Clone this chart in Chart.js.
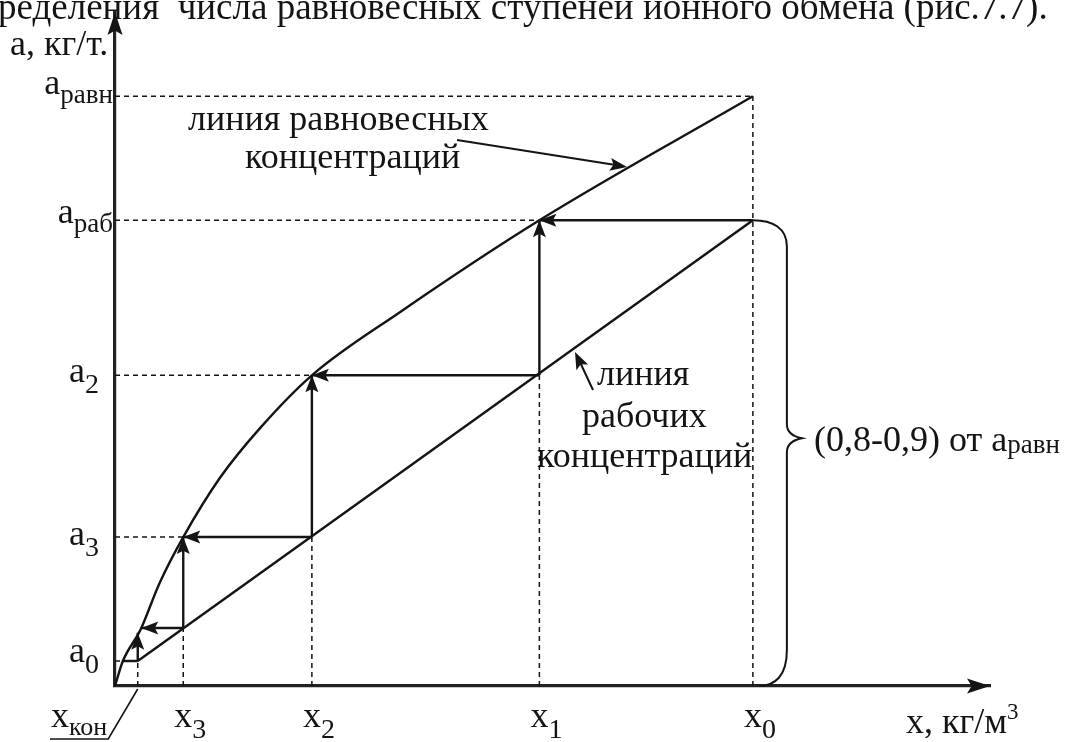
<!DOCTYPE html>
<html>
<head>
<meta charset="utf-8">
<script src="https://cdn.jsdelivr.net/npm/chart.js@4.4.1/dist/chart.umd.min.js"></script>
<style>
  html, body { margin: 0; background: #fff; }
  canvas { display: block; }
</style>
</head>
<body>
<canvas id="chart" width="1072" height="742"></canvas>
<script>
// уровни на осях (условные единицы)
const xLevels = [0.26, 0.78, 2.25, 4.85, 7.29]   // x_кон, x3, x2, x1, x0
const xNames = ["кон", "3", "2", "1", "0"]
const aLevels = [0.37, 2.21, 4.61, 6.91, 8.75]   // a0, a3, a2, a_раб, a_равн
const aNames = ["0", "3", "2", "раб", "равн"]

// линия равновесных концентраций
const eqX = [0, 0.09, 0.29, 0.51, 0.78, 1.20, 1.66, 2.25, 3.26, 4.85, 7.29]
const eqY = [0, 0.37, 0.83, 1.53, 2.21, 3.09, 3.83, 4.61, 5.55, 6.91, 8.75]

// линия рабочих концентраций
const workX = [0.26, 7.29]
const workY = [0.37, 6.91]

// ступени (стрелки: начало -> конец)
const stepFromX = [7.29, 4.85, 4.85, 2.25, 2.25, 0.78, 0.78, 0.26]
const stepFromY = [6.91, 4.61, 4.61, 2.21, 2.21, 0.86, 0.86, 0.37]
const stepToX   = [4.85, 4.85, 2.25, 2.25, 0.78, 0.78, 0.30, 0.26]
const stepToY   = [6.91, 6.91, 4.61, 4.61, 2.21, 2.21, 0.86, 0.79]

// пунктирные выноски: докуда доходят горизонтали и вертикали
const guideHEnd = [0.09, 0.78, 2.25, 4.85, 7.29]
const guideVEnd = [0.37, 0.86, 2.21, 4.61, 8.75]

const INK = "#141414"
const SERIF = '"Liberation Serif", "DejaVu Serif", serif'
const FS = 36

const pts = (xs, ys) => xs.map((x, i) => ({ x, y: ys[i] }))

// отрезки с разрывами (y: null) между ними
const stairData = []
stepFromX.forEach((x, i) => {
  stairData.push({ x, y: stepFromY[i] }, { x: stepToX[i], y: stepToY[i] }, { x, y: null })
})
stairData.push({ x: eqX[1], y: aLevels[0] }, { x: xLevels[0], y: aLevels[0] })

const guideData = []
aLevels.forEach((a, i) => guideData.push({ x: 0, y: a }, { x: guideHEnd[i], y: a }, { x: 0, y: null }))
xLevels.forEach((x, i) => guideData.push({ x, y: 0 }, { x, y: guideVEnd[i] }, { x, y: null }))

function arrowHead(ctx, x1, y1, x2, y2, len = 15, half = 6) {
  const ang = Math.atan2(y2 - y1, x2 - x1)
  ctx.save()
  ctx.translate(x2, y2)
  ctx.rotate(ang)
  ctx.beginPath()
  ctx.moveTo(0, 0)
  ctx.lineTo(-len, -half)
  ctx.lineTo(-len * 0.8, 0)
  ctx.lineTo(-len, half)
  ctx.closePath()
  ctx.fill()
  ctx.restore()
}

function subText(ctx, main, sub, left, base, mainSize, subSize, drop) {
  ctx.font = `${mainSize}px ${SERIF}`
  ctx.fillText(main, left, base)
  const w = ctx.measureText(main).width
  ctx.font = `${subSize}px ${SERIF}`
  ctx.fillText(sub, left + w, base + drop)
  return left + w + ctx.measureText(sub).width
}

function subWidth(ctx, main, sub, mainSize, subSize) {
  ctx.font = `${mainSize}px ${SERIF}`
  const w = ctx.measureText(main).width
  ctx.font = `${subSize}px ${SERIF}`
  return w + ctx.measureText(sub).width
}

const decor = {
  id: "decor",
  afterDraw(chart) {
    const { ctx, chartArea: ca, scales: { x: sx, y: sy } } = chart
    const px = (v) => sx.getPixelForValue(v)
    const py = (v) => sy.getPixelForValue(v)
    ctx.save()
    ctx.fillStyle = INK
    ctx.strokeStyle = INK
    ctx.textAlign = "left"
    ctx.textBaseline = "alphabetic"

    // стрелки осей
    arrowHead(ctx, ca.left, ca.bottom, ca.left, ca.top, 23, 7.5)
    arrowHead(ctx, ca.left, ca.bottom, ca.right, ca.bottom, 23, 7.5)

    // стрелки ступеней
    stepFromX.forEach((x, i) => {
      arrowHead(ctx, px(x), py(stepFromY[i]), px(stepToX[i]), py(stepToY[i]), 17, 6.5)
    })

    // подписи оси a
    const aDrop = [1, 8, 7, 3, -2]
    aLevels.forEach((a, i) => {
      const word = aNames[i].length > 1
      const subSize = word ? 27 : 28
      const right = word ? 113 : 99
      const w = subWidth(ctx, "a", aNames[i], FS, subSize)
      subText(ctx, "a", aNames[i], right - w, py(a) + aDrop[i], FS, subSize, word ? 9 : 11)
    })

    // подписи оси x
    ctx.font = `${FS}px ${SERIF}`
    const xw = ctx.measureText("x").width
    xLevels.forEach((x, i) => {
      if (i === 0) return
      subText(ctx, "x", xNames[i], px(x) - xw / 2, 727, FS, 28, 11)
    })
    const kEnd = subText(ctx, "x", xNames[0], 51, 727, FS, 26, 8)
    ctx.lineWidth = 1.6
    ctx.beginPath()
    ctx.moveTo(50, 739)
    ctx.lineTo(kEnd + 1, 739)
    ctx.lineTo(px(xLevels[0]), ca.bottom + 3)
    ctx.stroke()

    // названия осей
    ctx.font = `${FS}px ${SERIF}`
    ctx.fillText("a, кг/т.", 10, 55)
    ctx.fillText("x, кг/м", 906, 733)
    const mw = ctx.measureText("x, кг/м").width
    ctx.font = `23px ${SERIF}`
    ctx.fillText("3", 906 + mw, 719)

    // подписи линий
    ctx.font = `${FS}px ${SERIF}`
    ctx.fillText("линия равновесных", 188, 130)
    ctx.fillText("концентраций", 245, 168)
    ctx.fillText("линия", 597, 385)
    ctx.fillText("рабочих", 582, 427)
    ctx.fillText("концентраций", 537, 467)

    ctx.lineWidth = 2
    ctx.beginPath()
    ctx.moveTo(457, 140)
    ctx.lineTo(622, 166)
    ctx.stroke()
    arrowHead(ctx, 457, 140, 627, 167, 17, 6.5)
    ctx.beginPath()
    ctx.moveTo(593, 390)
    ctx.lineTo(579, 360)
    ctx.stroke()
    arrowHead(ctx, 593, 390, 575, 352, 17, 6.5)

    // фигурная скобка
    const X0 = px(xLevels[4])
    const T = py(aLevels[3])
    const B = ca.bottom
    const M = T + (B - T) * 0.468
    const bx = X0 + 34
    ctx.lineWidth = 2
    ctx.beginPath()
    ctx.moveTo(X0, T)
    ctx.bezierCurveTo(X0 + 20, T, bx, T + 8, bx, T + 26)
    ctx.lineTo(bx, M - 14)
    ctx.quadraticCurveTo(bx, M - 3, bx + 15, M)
    ctx.quadraticCurveTo(bx, M + 3, bx, M + 14)
    ctx.lineTo(bx, B - 36)
    ctx.bezierCurveTo(bx, B - 10, X0 + 22, B, X0 + 6, B)
    ctx.stroke()
    subText(ctx, "(0,8-0,9) от a", "равн", 814, M + 13, FS, 27, 2)

    // строка текста над рисунком
    ctx.font = `37px ${SERIF}`
    ctx.fillText("ределения  числа равновесных ступеней ионного обмена (рис.7.7).", -2, 19)
    ctx.restore()
  }
}

const axisOpts = (min, max, position) => ({
  type: "linear",
  position,
  min,
  max,
  grid: { display: false, drawTicks: false },
  ticks: { display: false },
  border: { display: true, color: "#222", width: 3.2 }
})

new Chart(document.getElementById("chart"), {
  type: "scatter",
  data: {
    datasets: [
      { label: "равновесная", data: pts(eqX, eqY), showLine: true, cubicInterpolationMode: "monotone",
        borderColor: INK, borderWidth: 2.4, pointRadius: 0, clip: false },
      { label: "рабочая", data: pts(workX, workY), showLine: true,
        borderColor: INK, borderWidth: 2.4, pointRadius: 0, clip: false },
      { label: "ступени", data: stairData, showLine: true, spanGaps: false,
        borderColor: INK, borderWidth: 2.4, pointRadius: 0, clip: false },
      { label: "выноски", data: guideData, showLine: true, spanGaps: false, borderDash: [5, 4],
        borderColor: INK, borderWidth: 1.5, pointRadius: 0, clip: false }
    ]
  },
  options: {
    responsive: false,
    animation: false,
    events: [],
    layout: { padding: { left: 115, right: 82, top: 12, bottom: 56 } },
    plugins: { legend: { display: false }, tooltip: { enabled: false } },
    scales: {
      x: axisOpts(0, 10, "bottom"),
      y: axisOpts(0, 10, "left")
    }
  },
  plugins: [decor]
})
</script>
</body>
</html>
